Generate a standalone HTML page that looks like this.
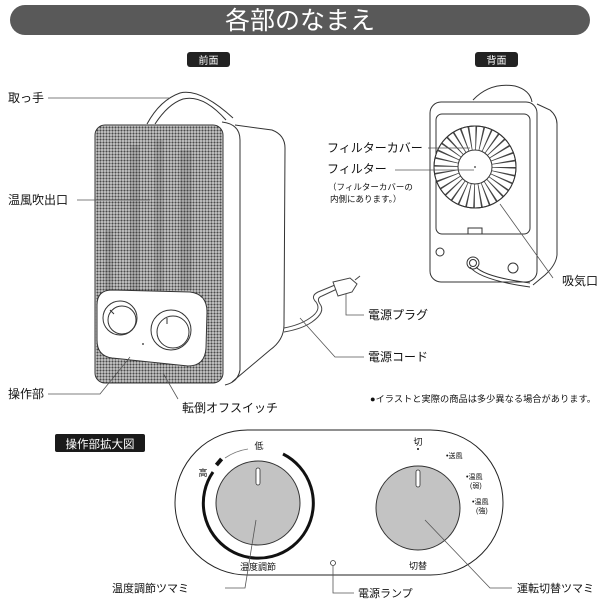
<!DOCTYPE html>
<html><head><meta charset="utf-8"><style>
html,body{margin:0;padding:0;background:#fff;}
svg{display:block;font-family:"Liberation Sans","Noto Sans CJK JP",sans-serif;}
</style></head><body>
<svg width="600" height="600" viewBox="0 0 600 600" xmlns="http://www.w3.org/2000/svg">
<defs>
<pattern id="dots" width="3" height="3" patternUnits="userSpaceOnUse">
<rect width="3" height="3" fill="#cfcfcf"/>
<circle cx="1.5" cy="1.5" r="1.1" fill="#4a4a4a"/>
</pattern>
</defs>
<!-- title -->
<rect x="10" y="5" width="580" height="30" rx="15" fill="#595959"/>
<text x="300" y="29" font-size="25" fill="#fff" text-anchor="middle">各部のなまえ</text>
<rect x="187" y="52" width="43" height="15" rx="3" fill="#222"/>
<text x="208.5" y="64" font-size="10" fill="#fff" text-anchor="middle">前面</text>
<rect x="475" y="52" width="43" height="15" rx="3" fill="#222"/>
<text x="496.5" y="64" font-size="10" fill="#fff" text-anchor="middle">背面</text>

<!-- front heater -->
<g fill="none" stroke="#333" stroke-width="1">
<path d="M147 124 Q160 100 180 93 Q200 88 233 118"/>
<path d="M155 124 Q168 104 183 99 Q203 94 226 120"/>
<path d="M235 125 L272 130 Q285 135 285 148 L284 325 Q284 340 270 350 L232 382"/>
<path d="M222 122 Q240 124 240 140 L240 370 Q238 382 225 385"/>
</g>
<rect x="95" y="125" width="128" height="258" rx="10" fill="url(#dots)" stroke="#333"/>
<g fill="#333" opacity="0.15">
<rect x="130" y="145" width="10" height="150"/><rect x="155" y="140" width="8" height="160"/>
<rect x="180" y="150" width="12" height="140"/><rect x="105" y="230" width="8" height="60"/>
</g>
<path d="M112 290 L190 292 Q207 294 207 312 L206 348 Q205 366 188 366 L112 358 Q97 356 97 340 L97 305 Q97 290 112 290 Z" fill="#fff" stroke="#333"/>
<circle cx="120" cy="318" r="17" fill="#fff" stroke="#333"/>
<circle cx="122" cy="320" r="14" fill="none" stroke="#333"/>
<line x1="110" y1="310" x2="114" y2="314" stroke="#333"/>
<circle cx="171" cy="330" r="20" fill="#fff" stroke="#333"/>
<circle cx="173" cy="332" r="16" fill="none" stroke="#333"/>
<line x1="167" y1="318" x2="167" y2="324" stroke="#333"/>
<circle cx="143" cy="344" r="1" fill="#555"/>
<!-- cord -->
<g fill="none" stroke="#444">
<path d="M284 328 Q300 325 310 318 Q322 310 316 302 Q310 296 318 292 L335 285"/>
<path d="M284 332 Q302 329 312 322 Q326 312 320 304 Q316 298 322 296 L337 289"/>
<path d="M333 282 L350 278 L357 284 L352 292 L338 296 Z" fill="#fff"/>
<path d="M355 280 L360 276"/>
</g>
<!-- front labels -->
<g font-size="12" fill="#111">
<text x="8" y="102">取っ手</text>
<text x="8" y="204">温風吹出口</text>
<text x="8" y="398">操作部</text>
<text x="182" y="412">転倒オフスイッチ</text>
<text x="368" y="319">電源プラグ</text>
<text x="368" y="361">電源コード</text>
</g>
<g fill="none" stroke="#555" stroke-width="0.8">
<path d="M48 98 L170 98"/>
<path d="M77 200 L150 200"/>
<path d="M48 394 L100 394 L130 357"/>
<path d="M178 399 L163 373"/>
<path d="M346 294 L346 315 L364 315"/>
<path d="M300 318 L335 357 L364 357"/>
</g>

<!-- back heater -->
<g fill="none" stroke="#333">
<path d="M473 100 Q490 82 515 86 Q530 90 532 102"/>
<path d="M537 104 L550 110 Q557 116 557 124 L557 255 Q556 265 545 275 L533 285"/>
<rect x="430" y="102" width="107" height="180" rx="11" fill="#fff"/>
<rect x="436" y="114" width="94" height="120" rx="6"/>
<circle cx="475" cy="167" r="41" fill="#fff"/>
<circle cx="475" cy="167" r="29" stroke-width="24" stroke-dasharray="1.2 4.5" stroke="#444"/>
<circle cx="475" cy="167" r="17" fill="#fff"/>
<circle cx="475" cy="167" r="41"/>
<rect x="468" y="228" width="14" height="6"/>
<circle cx="440" cy="252" r="4"/>
<circle cx="513" cy="268" r="5"/>
<circle cx="473" cy="263" r="6"/>
<circle cx="473" cy="263" r="3.5"/>
<path d="M470 267 Q480 280 530 287"/>
<path d="M476 267 Q485 277 530 283"/>
</g>
<circle cx="475" cy="167" r="0.9" fill="#333"/>
<g font-size="12" fill="#111">
<text x="327" y="152">フィルターカバー</text>
<text x="327" y="173">フィルター</text>
<text x="562" y="285">吸気口</text>
</g>
<text x="328" y="190" font-size="8.5" fill="#111">（フィルターカバーの</text>
<text x="330" y="202" font-size="8.5" fill="#111">内側にあります。）</text>
<text x="370" y="402" font-size="9" fill="#111" textLength="226" lengthAdjust="spacingAndGlyphs">●イラストと実際の商品は多少異なる場合があります。</text>
<g fill="none" stroke="#555" stroke-width="0.8">
<path d="M428 148 L470 148"/>
<path d="M395 170 L474 170"/>
<path d="M553 278 L500 204"/>
</g>

<!-- operation panel -->
<rect x="55" y="434" width="90" height="18" rx="2" fill="#1a1a1a"/>
<text x="100" y="448" font-size="11.5" fill="#fff" text-anchor="middle">操作部拡大図</text>
<rect x="175" y="430" width="328" height="145" rx="72.5" fill="#fff" stroke="#222"/>
<path d="M213 472 A55 55 0 1 0 283 454" fill="none" stroke="#111" stroke-width="3"/>
<path d="M225 458 A55 55 0 0 1 248 449" fill="none" stroke="#777" stroke-width="0.8"/>
<rect x="217" y="458" width="4" height="8" fill="#111" transform="rotate(40 219 462)"/>
<circle cx="258" cy="503" r="42" fill="#c3c3c3" stroke="#333"/>
<rect x="256" y="468" width="4" height="17" rx="2" fill="#fff" stroke="#333" stroke-width="0.8"/>
<circle cx="418" cy="508" r="42" fill="#c3c3c3" stroke="#333"/>
<rect x="416" y="470" width="4" height="17" rx="2" fill="#fff" stroke="#333" stroke-width="0.8"/>
<circle cx="333" cy="563" r="2.5" fill="none" stroke="#333" stroke-width="0.8"/>
<g font-size="9" fill="#111" text-anchor="middle">
<text x="259" y="449">低</text>
<text x="203" y="476">高</text>
<text x="258" y="570">温度調節</text>
<text x="418" y="445">切</text>
<text x="418" y="569">切替</text>
</g>
<circle cx="418" cy="449" r="1" fill="#111"/>
<g font-size="7" fill="#111">
<text x="446" y="458">•送風</text>
<text x="466" y="479">•温風</text>
<text x="470" y="488">(弱)</text>
<text x="472" y="504">•温風</text>
<text x="476" y="513">(強)</text>
</g>
<g font-size="11" fill="#111">
<text x="112" y="592">温度調節ツマミ</text>
<text x="358" y="597">電源ランプ</text>
<text x="517" y="592">運転切替ツマミ</text>
</g>
<g fill="none" stroke="#555" stroke-width="0.8">
<path d="M225 588 L245 588 L256 520"/>
<path d="M333 566 L333 593 L354 593"/>
<path d="M512 588 L490 588 L425 520"/>
</g>
</svg>
</body></html>
